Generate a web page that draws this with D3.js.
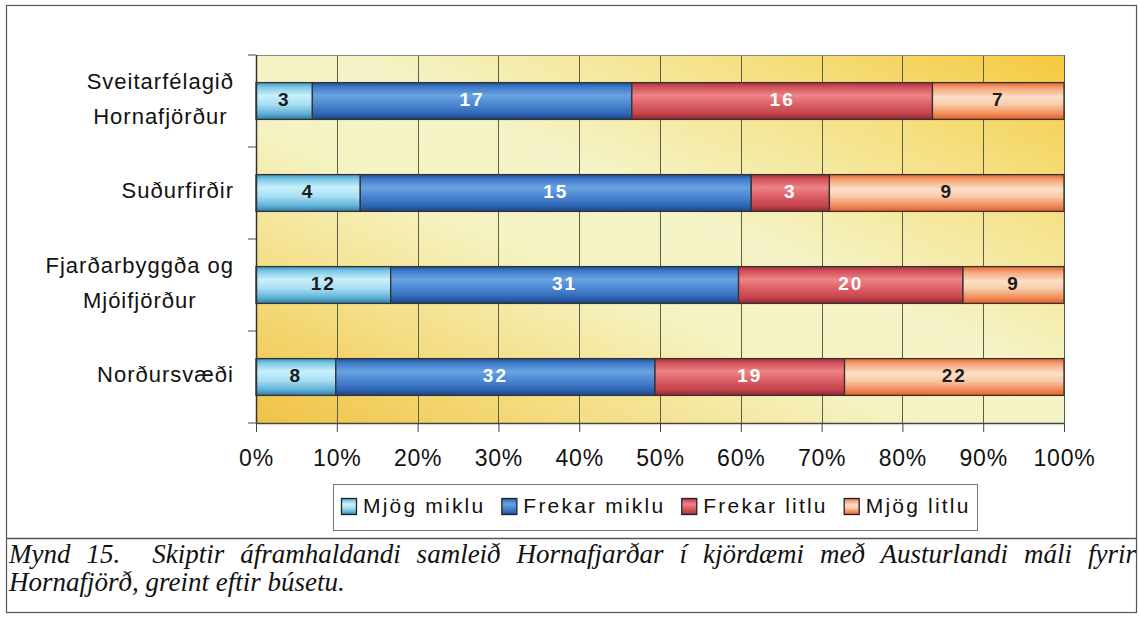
<!DOCTYPE html>
<html><head><meta charset="utf-8">
<script src="https://cdn.jsdelivr.net/npm/d3@7"></script>
<style>
html,body{margin:0;padding:0;background:#fff;}
svg{display:block;}
</style></head>
<body>
<script>
const categories = [["Sveitarfélagið","Hornafjörður"],["Suðurfirðir"],["Fjarðarbyggða og","Mjóifjörður"],["Norðursvæði"]];
const seriesNames = ["Mjög miklu","Frekar miklu","Frekar litlu","Mjög litlu"];
const mjogMiklu   = [3, 4, 12, 8];
const frekarMiklu = [17, 15, 31, 32];
const frekarLitlu = [16, 3, 20, 19];
const mjogLitlu   = [7, 9, 9, 22];
const xTicks = [0,0.1,0.2,0.3,0.4,0.5,0.6,0.7,0.8,0.9,1.0];
const captionLines = ["Mynd 15.  Skiptir áframhaldandi samleið Hornafjarðar í kjördæmi með Austurlandi máli fyrir","Hornafjörð, greint eftir búsetu."];

const W=1139,H=617;
const svg=d3.select("body").append("svg").attr("width",W).attr("height",H)
  .attr("font-family","Liberation Sans, Arial, sans-serif");
const defs=svg.append("defs");

// plot background gradient
const bg=defs.append("linearGradient").attr("id","bg").attr("x1",1).attr("y1",0).attr("x2",0).attr("y2",1);
[[0,"#f5c93e"],[0.2,"#f5df80"],[0.45,"#f5f4c8"],[0.6,"#f5f3c2"],[0.8,"#f4dc80"],[1,"#f0c244"]].forEach(s=>bg.append("stop").attr("offset",s[0]).attr("stop-color",s[1]));

const gradStops=[
 [[0,"#3e93be"],[0.12,"#7cc8e6"],[0.35,"#c9f0fb"],[0.6,"#a6def2"],[0.85,"#5fb0d6"],[1,"#2f7aa4"]],
 [[0,"#1f4f96"],[0.12,"#3f7acb"],[0.35,"#6aa2e0"],[0.6,"#4a86d2"],[0.85,"#2f66b4"],[1,"#1c4386"]],
 [[0,"#a8313b"],[0.12,"#cf5058"],[0.35,"#ee8488"],[0.6,"#dc5e65"],[0.85,"#c2434b"],[1,"#93262f"]],
 [[0,"#e8652c"],[0.15,"#f4a57a"],[0.4,"#fbe0c8"],[0.6,"#f8cba8"],[0.85,"#f08a58"],[1,"#e55e22"]]
];
gradStops.forEach((st,i)=>{
  const g=defs.append("linearGradient").attr("id","g"+i).attr("x1",0).attr("y1",0).attr("x2",0).attr("y2",1);
  st.forEach(s=>g.append("stop").attr("offset",s[0]).attr("stop-color",s[1]));
});
const labelColors=["#1c1c1c","#ffffff","#ffffff","#1c1c1c"];

// outer frame
svg.append("rect").attr("x",6.5).attr("y",5.5).attr("width",1130).attr("height",607).attr("fill","none").attr("stroke","#555").attr("stroke-width",1.2);
svg.append("line").attr("x1",6).attr("x2",1137).attr("y1",538.5).attr("y2",538.5).attr("stroke","#555").attr("stroke-width",1.5);

const x0=256,x1=1064,y0=55,y1=423;
const x=d3.scaleLinear().domain([0,1]).range([x0,x1]);
const y=d3.scaleBand().domain(d3.range(categories.length)).range([y0,y1]).paddingInner(0.6).paddingOuter(0.3);

svg.append("rect").attr("x",x0).attr("y",y0).attr("width",x1-x0).attr("height",y1-y0).attr("fill","url(#bg)");

// gridlines
svg.append("g").selectAll("line").data(xTicks.slice(1)).join("line")
 .attr("x1",d=>Math.round(x(d))+0.5).attr("x2",d=>Math.round(x(d))+0.5).attr("y1",y0).attr("y2",y1)
 .attr("stroke","#56604a").attr("stroke-width",1);
svg.append("line").attr("x1",x0).attr("x2",x1).attr("y1",y0+0.5).attr("y2",y0+0.5).attr("stroke","#8a8a80");

// stacked data
const series=[mjogMiklu,frekarMiklu,frekarLitlu,mjogLitlu];
const rows=categories.map((c,i)=>{
  const vals=series.map(s=>s[i]); const tot=d3.sum(vals);
  let acc=0; return vals.map((v,k)=>{const a=acc/tot; acc+=v; return {i,k,v,a,b:acc/tot};});
});
const segs=rows.flat();
const bars=svg.append("g");
bars.selectAll("rect").data(segs).join("rect")
 .attr("x",d=>x(d.a)).attr("width",d=>x(d.b)-x(d.a))
 .attr("y",d=>y(d.i)).attr("height",y.bandwidth())
 .attr("fill",d=>"url(#g"+d.k+")").attr("stroke","#333").attr("stroke-width",1.3);
bars.selectAll("text").data(segs).join("text")
 .attr("x",d=>(x(d.a)+x(d.b))/2).attr("y",d=>y(d.i)+y.bandwidth()/2+5)
 .attr("text-anchor","middle").attr("font-size",19).attr("font-weight","bold").attr("letter-spacing",2)
 .attr("fill",d=>labelColors[d.k]).text(d=>d.v);

// x axis
const xa=d3.axisBottom(x).tickValues(xTicks).tickFormat(d3.format(".0%")).tickSize(9).tickSizeOuter(0);
const gx=svg.append("g").attr("transform",`translate(0,${y1})`).call(xa);
gx.attr("font-family",null).attr("font-size",null);
gx.select(".domain").attr("stroke","#444").attr("stroke-width",1.5);
gx.selectAll(".tick line").attr("stroke","#444");
gx.selectAll(".tick text").attr("font-size",23).attr("letter-spacing",0.8).attr("fill","#111").attr("dy",31);

// y axis
const yl=svg.append("g");
yl.append("line").attr("x1",x0+0.5).attr("x2",x0+0.5).attr("y1",y0).attr("y2",y1).attr("stroke","#333").attr("stroke-width",1.5);
const bounds=d3.range(categories.length+1).map(i=>y0+i*y.step());
yl.selectAll("line.t").data(bounds).join("line").attr("class","t").attr("x1",x0-8).attr("x2",x0).attr("y1",d=>d).attr("y2",d=>d).attr("stroke","#444");

// category labels
const labRight=234, lh=35;
categories.forEach((lines,i)=>{
  const cy=y(i)+y.bandwidth()/2;
  const g=svg.append("g");
  const ts=lines.map((t,j)=>g.append("text").attr("font-size",22).attr("letter-spacing",1).attr("fill","#111")
     .attr("y",cy+5+(j-(lines.length-1)/2)*lh).text(t));
  const widths=ts.map(t=>t.node().getComputedTextLength());
  const mw=d3.max(widths);
  ts.forEach(t=>t.attr("text-anchor","middle").attr("x",labRight-mw/2));
});

// legend
const lg=svg.append("g");
lg.append("rect").attr("x",333.5).attr("y",484.5).attr("width",644).attr("height",46).attr("fill","#fff").attr("stroke","#777");
let lx=341;
seriesNames.forEach((n,k)=>{
  lg.append("rect").attr("x",lx+0.5).attr("y",498.5).attr("width",15).attr("height",16).attr("fill","url(#g"+k+")").attr("stroke","#222").attr("stroke-width",1.3);
  const t=lg.append("text").attr("x",lx+22).attr("y",513).attr("font-size",21).attr("letter-spacing",2.2).attr("fill","#111").text(n);
  lx+=22+t.node().getComputedTextLength()+16;
});

// caption
const cap=svg.append("g").attr("font-family","Liberation Serif, Times New Roman, serif").attr("font-style","italic").attr("font-size",27).attr("fill","#111");
const c1=cap.append("text").attr("x",9).attr("y",563).style("white-space","pre").text(captionLines[0]);
const nat=c1.node().getComputedTextLength();
const nSp=(captionLines[0].match(/ /g)||[]).length;
c1.attr("word-spacing",Math.max(0,(1127-nat)/nSp));
cap.append("text").attr("x",9).attr("y",591).text(captionLines[1]);
</script>
</body></html>
